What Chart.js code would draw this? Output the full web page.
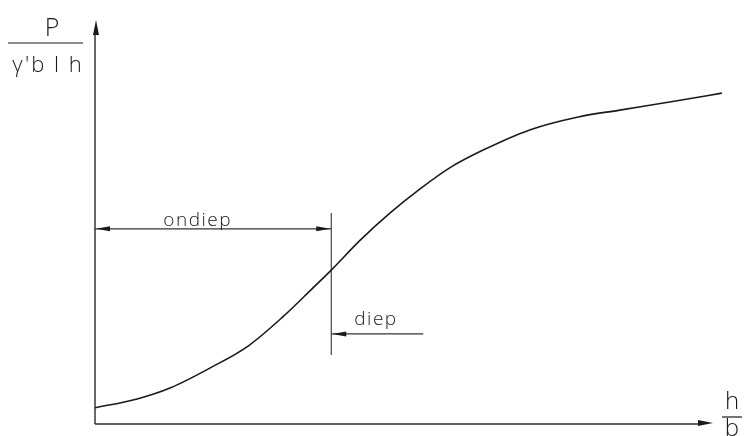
<!DOCTYPE html>
<html>
<head>
<meta charset="utf-8">
<style>
  html, body { margin: 0; padding: 0; background: #fff; }
  #wrap { width: 747px; height: 436px; }
</style>
<script src="https://cdn.jsdelivr.net/npm/chart.js@4/dist/chart.umd.min.js"></script>
</head>
<body>
<div id="wrap"><canvas id="c" width="747" height="436"></canvas></div>
<script>
// Relative depth h/b (horizontal) and dimensionless force P/(γ'b l h) (vertical)
const depthRatio = [0, 0.67, 1.19, 1.83, 2.43, 2.98, 3.46, 3.75, 4.21, 4.68, 5.16, 5.63, 6.16, 6.90, 7.67, 8.33, 9.24, 9.95];
const forceRatio = [0.40, 0.62, 0.89, 1.39, 1.93, 2.65, 3.37, 3.81, 4.55, 5.22, 5.82, 6.34, 6.78, 7.28, 7.60, 7.77, 8.00, 8.19];

// Boundary between shallow (ondiep) and deep (diep)
const boundaryX = 3.75;
const boundaryY = [1.71, 5.22];
const ondiepArrowY = 4.83;
const diepArrowY = 2.23;
const diepArrowStart = 5.21;

// Axis extents
const xAxisEnd = 9.81;
const yAxisEnd = 10;

const ink = '#1a1a1a';

const pts = (xs, ys) => xs.map((x, i) => ({ x, y: ys[i] }));

function arrowHead(ctx, x, y, dir, len, half) {
  ctx.beginPath();
  if (dir === 'right') { ctx.moveTo(x, y); ctx.lineTo(x - len, y - half); ctx.lineTo(x - len, y + half); }
  if (dir === 'left')  { ctx.moveTo(x, y); ctx.lineTo(x + len, y - half); ctx.lineTo(x + len, y + half); }
  if (dir === 'up')    { ctx.moveTo(x, y); ctx.lineTo(x - half, y + len); ctx.lineTo(x + half, y + len); }
  ctx.closePath();
  ctx.fill();
}

const decorations = {
  id: 'decorations',
  beforeDatasetsDraw(chart) {
    const { ctx, scales: { x, y } } = chart;
    ctx.save();
    ctx.strokeStyle = '#2a2a2a';
    ctx.lineWidth = 1.4;
    const x0 = x.getPixelForValue(0), y0 = y.getPixelForValue(0);
    ctx.beginPath();
    ctx.moveTo(x0, y0);
    ctx.lineTo(x0, y.getPixelForValue(yAxisEnd) + 10);
    ctx.moveTo(x0, y0);
    ctx.lineTo(x.getPixelForValue(xAxisEnd) - 10, y0);
    ctx.stroke();
    ctx.restore();
  },
  afterDraw(chart) {
    const { ctx, scales: { x, y } } = chart;
    ctx.save();
    ctx.fillStyle = ink;
    const x0 = x.getPixelForValue(0), y0 = y.getPixelForValue(0);
    // axis arrowheads
    arrowHead(ctx, x0 + 1, y.getPixelForValue(yAxisEnd), 'up', 15, 3);
    arrowHead(ctx, x.getPixelForValue(xAxisEnd), y0 - 1, 'right', 15, 3);
    // dimension arrowheads
    const bx = x.getPixelForValue(boundaryX);
    const oy = y.getPixelForValue(ondiepArrowY);
    arrowHead(ctx, x0 + 1, oy, 'left', 14, 2.5);
    arrowHead(ctx, bx - 1, oy, 'right', 14, 2.5);
    const dy = y.getPixelForValue(diepArrowY);
    arrowHead(ctx, bx + 1, dy, 'left', 14, 2.5);

    // labels
    ctx.font = '300 19px "Open Sans", "DejaVu Sans", sans-serif';
    ctx.letterSpacing = '1.5px';
    ctx.textAlign = 'center';
    ctx.textBaseline = 'alphabetic';
    ctx.fillText('ondiep', x.getPixelForValue(1.63), oy - 3);
    ctx.fillText('diep', x.getPixelForValue(4.46), dy - 9);

    // vertical axis title: P / (γ'b l h)
    ctx.strokeStyle = ink;
    ctx.lineWidth = 1.2;
    ctx.beginPath();
    ctx.moveTo(8, 43); ctx.lineTo(83, 43);
    ctx.stroke();
    ctx.letterSpacing = '0px';
    ctx.font = '300 25px "Open Sans", "DejaVu Sans", sans-serif';
    ctx.fillText('P', 52, 36);
    ctx.letterSpacing = '2px';
    ctx.font = '300 22px "Open Sans", "DejaVu Sans", sans-serif';
    ctx.fillText("\u03b3'b l h", 48, 72);

    // horizontal axis title: h / b
    ctx.letterSpacing = '0px';
    ctx.beginPath();
    ctx.moveTo(722, 417); ctx.lineTo(742, 417);
    ctx.stroke();
    ctx.font = '300 24px "Open Sans", "DejaVu Sans", sans-serif';
    ctx.fillText('h', 732, 409);
    ctx.fillText('b', 732, 436);
    ctx.restore();
  }
};

new Chart(document.getElementById('c'), {
  type: 'scatter',
  data: {
    datasets: [
      {
        data: pts(depthRatio, forceRatio),
        showLine: true,
        borderColor: ink,
        borderWidth: 1.6,
        pointRadius: 0,
        cubicInterpolationMode: 'monotone',
        clip: false
      },
      {
        data: [{ x: boundaryX, y: boundaryY[0] }, { x: boundaryX, y: boundaryY[1] }],
        showLine: true,
        borderColor: '#333',
        borderWidth: 1.1,
        pointRadius: 0,
        clip: false
      },
      {
        data: [{ x: 0, y: ondiepArrowY }, { x: boundaryX, y: ondiepArrowY }],
        showLine: true,
        borderColor: '#333',
        borderWidth: 1.1,
        pointRadius: 0,
        clip: false
      },
      {
        data: [{ x: boundaryX, y: diepArrowY }, { x: diepArrowStart, y: diepArrowY }],
        showLine: true,
        borderColor: '#333',
        borderWidth: 1.1,
        pointRadius: 0,
        clip: false
      }
    ]
  },
  options: {
    responsive: false,
    animation: false,
    layout: { padding: { left: 95, right: 22, top: 20, bottom: 12 } },
    plugins: { legend: { display: false }, tooltip: { enabled: false } },
    scales: {
      x: { type: 'linear', min: 0, max: 10, display: false },
      y: { type: 'linear', min: 0, max: 10, display: false }
    }
  },
  plugins: [decorations]
});
</script>
</body>
</html>
